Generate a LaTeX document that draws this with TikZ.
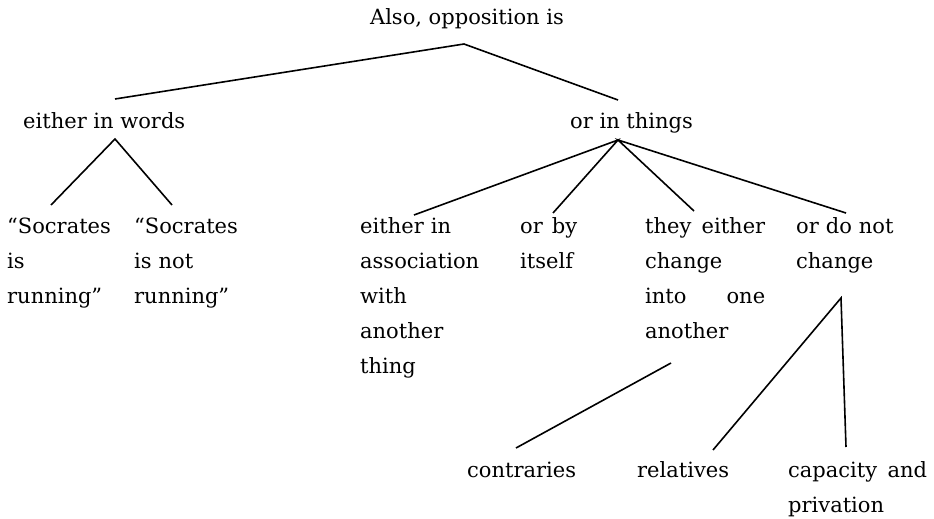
\documentclass[tikz,border=0pt]{standalone}
\usepackage{fontspec}
\setmainfont{DejaVu Serif}
\usetikzlibrary{positioning}

\begin{document}
\begin{tikzpicture} [
		x=1pt, y=-1pt,
		term/.style = {inner sep=0pt, anchor=base west, align=left,
			font=\fontsize{21}{35}\selectfont},
		line/.style = {draw, line width=1.6pt},
	]
	\useasboundingbox (0,0) rectangle (934,519);
	% the statements
	\begin{scope}
		\node [term, anchor=base] (title) at (467,25) {Also, opposition is};
		\node [term] (words) at (23,128) {either in words};
		\node [term] (things) at (570,128) {or in things};
		\node [term, text width=100pt] (running) at (7,233) {``Socrates\\is\\running''};
		\node [term, text width=100pt] (notrunning) at (134,233) {``Socrates\\is not\\running''};
		\node [term, text width=125pt] (assoc) at (360,233) {either in\\association\\with\\another\\thing};
		\node [term, text width=57pt] (itself) at (520,233) {or\hfill by\\itself};
		\node [term, text width=120pt] (change) at (645,233) {they\hfill either\\change\\into\hfill one\\another};
		\node [term, text width=110pt] (nochange) at (796,233) {or do not\\change};
		\node [term] (contraries) at (467,477) {contraries};
		\node [term] (relatives) at (637,477) {relatives};
		\node [term, text width=139pt] (capacity) at (788,477) {capacity\hfill and\\privation};
	\end{scope}
	% where the branches meet and end
	\coordinate (title-j) at (464,44);
	\coordinate (words-t) at (115,99);
	\coordinate (things-t) at (618,100);
	\coordinate (words-j) at (115,139);
	\coordinate (running-t) at (51,205);
	\coordinate (notrunning-t) at (172,205);
	\coordinate (things-j) at (618,140);
	\coordinate (assoc-t) at (414,215);
	\coordinate (itself-t) at (553,213);
	\coordinate (change-t) at (694,211);
	\coordinate (nochange-t) at (846,213);
	\coordinate (change-j) at (671,363);
	\coordinate (nochange-j) at (841,298);
	\coordinate (contraries-t) at (516,448);
	\coordinate (relatives-t) at (713,450);
	\coordinate (capacity-t) at (846,447);
	% branches
	\begin{scope} [every path/.style=line]
		\path (words-t) -- (title-j) -- (things-t);
		\path (running-t) -- (words-j) -- (notrunning-t);
		\path (assoc-t) -- (things-j) -- (itself-t);
		\path (change-t) -- (things-j) -- (nochange-t);
		\path (change-j) -- (contraries-t);
		\path (relatives-t) -- (nochange-j) -- (capacity-t);
	\end{scope}
\end{tikzpicture}
\end{document}
